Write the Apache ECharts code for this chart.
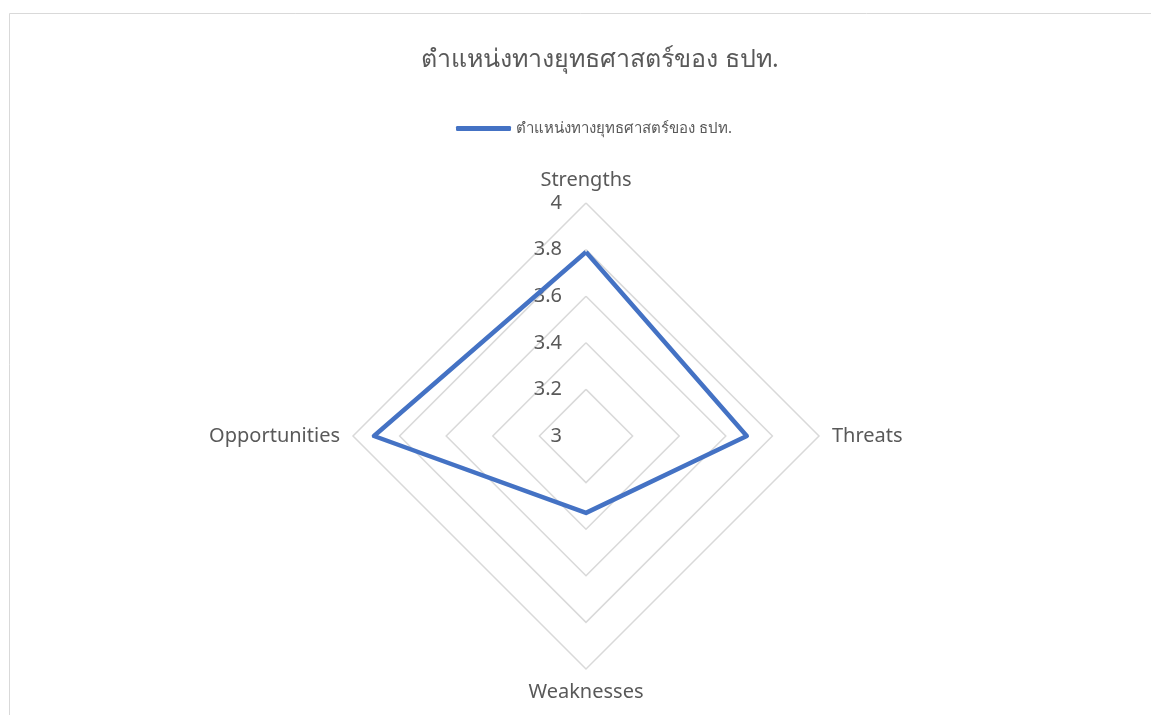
<!DOCTYPE html>
<html>
<head>
<meta charset="utf-8">
<script src="https://cdn.jsdelivr.net/npm/echarts@6/dist/echarts.min.js"></script>
<style>
  html, body { margin: 0; padding: 0; background: #fff; }
  #main { width: 1151px; height: 715px; }
</style>
</head>
<body>
<div id="main"></div>
<script>
// ข้อมูลของกราฟ
var titleText = 'ตำแหน่งทางยุทธศาสตร์ของ ธปท.';
var seriesName = 'ตำแหน่งทางยุทธศาสตร์ของ ธปท.';
// ECharts วางแกนทวนเข็มนาฬิกา จึงเรียง S, O, W, T
var categories = ['Strengths', 'Opportunities', 'Weaknesses', 'Threats'];
var values = [3.79, 3.91, 3.33, 3.69];
var axisMin = 3, axisMax = 4, splitCount = 5;

var indicators = categories.map(function (name, i) {
    var ind = { name: name, min: axisMin, max: axisMax };
    if (i == 0) {
        ind.axisLabel = { show: true };
    }
    return ind;
});

var myChart = echarts.init(document.getElementById('main'));

var option = {
    backgroundColor: '#fff',
    textStyle: { fontFamily: 'Noto Sans, DejaVu Sans, sans-serif' },
    title: {
        text: titleText,
        left: 595,
        textAlign: 'center',
        top: 42,
        textStyle: { fontSize: 25, fontWeight: 'normal', color: '#595959' }
    },
    legend: {
        data: [seriesName],
        top: 116,
        left: 451,
        icon: 'roundRect',
        itemWidth: 55,
        itemHeight: 5,
        itemGap: 2,
        textStyle: { fontSize: 15, color: '#595959' }
    },
    graphic: [{
        type: 'rect',
        shape: { x: 9.5, y: 13.5, width: 1200, height: 800 },
        style: { fill: 'none', stroke: '#d9d9d9', lineWidth: 1 },
        silent: true
    }],
    radar: {
        center: [586, 436],
        radius: 233,
        shape: 'polygon',
        splitNumber: splitCount,
        indicator: indicators,
        axisName: { color: '#595959', fontSize: 20 },
        nameGap: 13,
        axisLine: { show: false },
        axisTick: { show: false },
        axisLabel: { show: false, color: '#595959', fontSize: 20, margin: 24 },
        splitLine: { lineStyle: { color: '#d9d9d9', width: 1.5 } },
        splitArea: { show: false }
    },
    series: [{
        name: seriesName,
        type: 'radar',
        symbol: 'none',
        lineStyle: { color: '#4472C4', width: 4.5 },
        itemStyle: { color: '#4472C4' },
        data: [{ value: values, name: seriesName }]
    }]
};

myChart.setOption(option);
</script>
</body>
</html>
